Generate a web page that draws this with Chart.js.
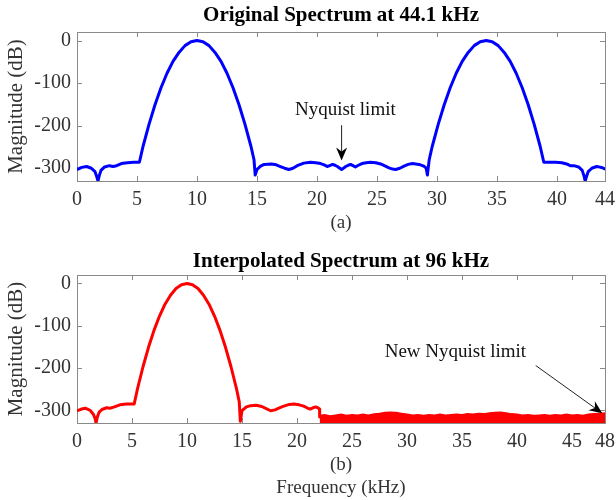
<!DOCTYPE html>
<html>
<head>
<meta charset="utf-8">
<script src="https://cdn.jsdelivr.net/npm/chart.js@4/dist/chart.umd.min.js"></script>
<style>
  body { margin: 0; background: #fff; }
  #wrap { position: relative; width: 616px; height: 500px; }
  canvas { position: absolute; left: 0; }
</style>
</head>
<body>
<div id="wrap">
  <canvas id="topChart" width="616" height="245" style="top:0"></canvas>
  <canvas id="bottomChart" width="616" height="255" style="top:245px"></canvas>
</div>
<script>
// (a) original spectrum, 44.1 kHz
const topFreq = [0, 0.4, 0.8, 1.2, 1.5, 1.65, 1.75, 1.85, 2.0, 2.3, 2.7, 3.0, 3.3, 3.7, 4.2, 4.7, 5.2,
  5.5, 6.0, 6.5, 7.0, 7.5, 8.0, 8.5, 9.0, 9.5, 10, 10.5, 11, 11.5, 12, 12.5, 13, 13.5, 14, 14.5, 14.75, 14.85,
  15.0, 15.3, 15.6, 16.2, 16.6, 16.95, 17.3, 17.65, 18.0, 18.35, 18.9, 19.45, 19.9, 20.3, 20.6, 20.85, 21.05,
  21.3, 21.5, 21.7, 21.9, 22.05, 22.2, 22.4, 22.6, 22.8, 23.0, 23.2, 23.45, 23.75, 24.1, 24.45, 24.9, 25.3,
  25.7, 26.0, 26.3, 26.55, 26.9, 27.25, 27.6, 27.95, 28.5, 28.9, 29.1, 29.2,
  29.35, 29.6, 30.1, 30.6, 31.1, 31.6, 32.1, 32.6, 33.1, 33.6, 34.1, 34.6, 35.1, 35.6, 36.1, 36.6, 37.1, 37.6,
  38.1, 38.6, 38.9, 39.4, 39.9, 40.4, 40.8, 41.1, 41.4, 41.8, 42.1, 42.25, 42.35, 42.45, 42.6, 42.9, 43.3,
  43.7, 44.1];
const topMag = [-303, -298, -296, -300, -308, -320, -330, -318, -305, -297, -294, -296, -294, -289, -287, -286, -286,
  -249, -197, -151, -111, -77, -49, -28, -12, -3, 0, -3, -12, -28, -49, -77, -111, -151, -197, -249, -280, -316,
  -303, -295, -291, -290, -292, -296, -300, -303, -300, -294, -288, -286, -287, -289, -292, -296, -294,
  -291, -293, -296, -300, -303, -300, -296, -293, -291, -294, -297, -293, -289, -287, -286, -287, -290,
  -295, -299, -302, -303, -300, -295, -291, -289, -291, -295, -300, -316,
  -280, -249, -197, -151, -111, -77, -49, -28, -12, -3, 0, -3, -12, -28, -49, -77, -111, -151,
  -197, -249, -286, -286, -286, -287, -290, -294, -294, -297, -305, -318, -330, -320, -308, -300, -296,
  -298, -303];

// (b) interpolated spectrum, 96 kHz
const botFreq = [0, 0.4, 0.75, 1.2, 1.5, 1.65, 1.73, 1.85, 2.0, 2.27, 2.7, 3.0, 3.4, 3.9, 4.5, 5.2,
  5.5, 6.0, 6.5, 7.0, 7.5, 8.0, 8.5, 9.0, 9.5, 10, 10.5, 11, 11.5, 12, 12.5, 13, 13.5, 14, 14.5, 14.75, 14.85,
  15.0, 15.4, 15.8, 16.3, 16.8, 17.2, 17.6, 18.0, 18.4, 18.8, 19.3, 19.7, 20.2, 20.6, 20.9, 21.2, 21.45,
  21.7, 21.95, 22.05, 22.06];
const botMag = [-301, -297, -295, -300, -310, -320, -330, -316, -305, -298, -294, -295, -292, -287, -285, -285,
  -249, -197, -151, -111, -77, -49, -28, -12, -3, 0, -3, -12, -28, -49, -77, -111, -151, -197, -249, -280, -326,
  -301, -292, -289, -288, -291, -296, -301, -299, -294, -290, -286, -285, -287, -290, -294, -297, -294,
  -292, -295, -297, -316];

// noise floor above the old Nyquist limit (upper edge of the band)
const noiseFreq = [22.06, 22.5, 23, 23.5, 24, 24.5, 25, 25.5, 26, 26.5, 27, 27.5, 28, 28.5, 29, 29.5, 30,
  30.5, 31, 31.5, 32, 32.5, 33, 33.5, 34, 34.5, 35, 35.5, 36, 36.5, 37, 37.5, 38, 38.5, 39, 39.5, 40, 40.5,
  41, 41.5, 42, 42.5, 43, 43.5, 44, 44.5, 45, 45.5, 46, 46.5, 47, 47.5, 48];
const noiseMag = [-313, -311, -314, -312, -310, -313, -311, -312, -310, -312, -309, -308, -306, -305, -306, -308, -310,
  -312, -311, -313, -311, -312, -310, -312, -311, -310, -311, -309, -310, -308, -309, -307, -306, -305, -307, -309, -310, -312,
  -311, -313, -312, -311, -313, -311, -312, -310, -312, -311, -313, -310, -309, -308, -307];

const topXTicks = [0, 5, 10, 15, 20, 25, 30, 35, 40, 44];
const botXTicks = [0, 5, 10, 15, 20, 25, 30, 35, 40, 45, 48];
const yTicks = [-300, -200, -100, 0];

const SERIF = "'Liberation Serif', 'Times New Roman', serif";
const TEXT = '#333333';
const tickFont = { family: SERIF, size: 20 };
const labelFont = { family: SERIF, size: 19 };

function pts(xs, ys) {
  return xs.map((x, i) => ({ x: x, y: ys[i] }));
}

// MATLAB-like box with inward ticks
const boxTicks = {
  id: 'boxTicks',
  beforeDatasetsDraw(chart) {
    const { ctx, chartArea: a, scales: { x, y } } = chart;
    ctx.save();
    ctx.strokeStyle = '#8a8a8a';
    ctx.lineWidth = 1;
    ctx.strokeRect(Math.round(a.left) + 0.5, Math.round(a.top) + 0.5,
      Math.round(a.right - a.left), Math.round(a.bottom - a.top));
    ctx.beginPath();
    x.ticks.forEach(t => {
      const p = Math.round(x.getPixelForValue(t.value)) + 0.5;
      ctx.moveTo(p, a.bottom); ctx.lineTo(p, a.bottom - 5);
      ctx.moveTo(p, a.top); ctx.lineTo(p, a.top + 5);
    });
    y.ticks.forEach(t => {
      const p = Math.round(y.getPixelForValue(t.value)) + 0.5;
      ctx.moveTo(a.left, p); ctx.lineTo(a.left + 5, p);
      ctx.moveTo(a.right, p); ctx.lineTo(a.right - 5, p);
    });
    ctx.stroke();
    ctx.restore();
  }
};

// bold heading centred over the plot box
const heading = {
  id: 'heading',
  afterDraw(chart, args, o) {
    const { ctx, chartArea: a } = chart;
    ctx.save();
    ctx.font = 'bold 21px ' + SERIF;
    ctx.fillStyle = '#000';
    ctx.textAlign = 'center';
    ctx.textBaseline = 'middle';
    ctx.fillText(o.text, (a.left + a.right) / 2, o.y);
    ctx.restore();
  }
};

// text + arrow annotation given in data units
const notes = {
  id: 'notes',
  afterDatasetsDraw(chart, args, o) {
    if (!o.text) return;
    const { ctx, scales: { x, y } } = chart;
    ctx.save();
    ctx.fillStyle = '#111';
    ctx.font = '19px ' + SERIF;
    ctx.textAlign = 'center';
    ctx.textBaseline = 'middle';
    ctx.fillText(o.text, x.getPixelForValue(o.tx), y.getPixelForValue(o.ty));
    const x0 = x.getPixelForValue(o.from[0]), y0 = y.getPixelForValue(o.from[1]);
    const x1 = x.getPixelForValue(o.to[0]), y1 = y.getPixelForValue(o.to[1]);
    const ang = Math.atan2(y1 - y0, x1 - x0);
    const len = 13, half = 5.5, back = 9;
    ctx.strokeStyle = '#222';
    ctx.lineWidth = 1;
    ctx.beginPath();
    ctx.moveTo(x0, y0);
    ctx.lineTo(x1 - Math.cos(ang) * back, y1 - Math.sin(ang) * back);
    ctx.stroke();
    ctx.translate(x1, y1);
    ctx.rotate(ang);
    ctx.beginPath();
    ctx.moveTo(0, 0);
    ctx.lineTo(-len, -half);
    ctx.lineTo(-back, 0);
    ctx.lineTo(-len, half);
    ctx.closePath();
    ctx.fillStyle = '#000';
    ctx.fill();
    ctx.restore();
  }
};

function scales(xMax, xTicks, xTitle, xHeight, xTickPad, xTitlePad) {
  return {
    x: {
      type: 'linear', min: 0, max: xMax,
      grid: { display: false, drawTicks: false },
      border: { display: false },
      ticks: { font: tickFont, color: TEXT, padding: xTickPad, autoSkip: false, maxRotation: 0 },
      afterBuildTicks: s => { s.ticks = xTicks.map(v => ({ value: v })); },
      afterFit: s => { s.height = xHeight; s.paddingLeft = 0; s.paddingRight = 0; },
      title: { display: true, text: xTitle, font: labelFont, color: TEXT, padding: { top: 0, bottom: xTitlePad } }
    },
    y: {
      min: -330, max: 20,
      grid: { display: false, drawTicks: false },
      border: { display: false },
      ticks: { font: tickFont, color: TEXT, padding: 6 },
      afterBuildTicks: s => { s.ticks = yTicks.map(v => ({ value: v })); },
      afterFit: s => { s.width = 77; s.paddingTop = 0; s.paddingBottom = 0; },
      title: { display: true, text: 'Magnitude (dB)', font: { family: SERIF, size: 21 }, color: TEXT, padding: { top: 4, bottom: 0 } }
    }
  };
}

new Chart(document.getElementById('topChart'), {
  type: 'line',
  data: {
    datasets: [{
      data: pts(topFreq, topMag),
      borderColor: '#0000ff',
      borderWidth: 3,
      pointRadius: 0,
      borderJoinStyle: 'round'
    }]
  },
  options: {
    responsive: false,
    animation: false,
    devicePixelRatio: 1,
    layout: { padding: { left: 0, right: 11, top: 32, bottom: 0 } },
    scales: scales(44, topXTicks, '(a)', 64, 7, 11),
    plugins: {
      legend: { display: false },
      tooltip: { enabled: false },
      title: { display: false },
      heading: { text: 'Original Spectrum at 44.1 kHz', y: 16 },
      notes: { text: 'Nyquist limit', tx: 22.36, ty: -164, from: [22.05, -199], to: [22.05, -282] }
    }
  },
  plugins: [boxTicks, notes, heading]
});

new Chart(document.getElementById('bottomChart'), {
  type: 'line',
  data: {
    datasets: [{
      data: pts(botFreq, botMag),
      borderColor: '#ff0000',
      borderWidth: 3,
      pointRadius: 0,
      borderJoinStyle: 'round'
    }, {
      data: pts(noiseFreq, noiseMag),
      borderColor: '#ff0000',
      backgroundColor: '#ff0000',
      borderWidth: 2,
      pointRadius: 0,
      fill: 'start'
    }]
  },
  options: {
    responsive: false,
    animation: false,
    devicePixelRatio: 1,
    layout: { padding: { left: 0, right: 11, top: 30, bottom: 0 } },
    scales: scales(48, botXTicks, ['(b)', 'Frequency (kHz)'], 77, 7, 1),
    plugins: {
      legend: { display: false },
      tooltip: { enabled: false },
      title: { display: false },
      heading: { text: 'Interpolated Spectrum at 96 kHz', y: 17 },
      notes: { text: 'New Nyquist limit', tx: 34.4, ty: -161, from: [41.7, -194], to: [47.75, -307] }
    }
  },
  plugins: [boxTicks, notes, heading]
});
</script>
</body>
</html>
